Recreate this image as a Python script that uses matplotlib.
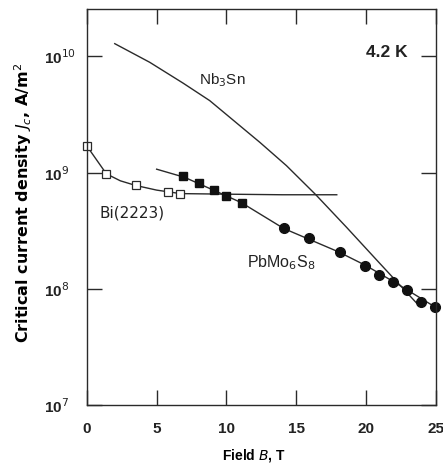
import matplotlib.pyplot as plt

# Nb3Sn curve (field in T, log10 Jc)
nb3sn_b = [2.0, 4.5, 6.9, 8.8, 10.5, 12.4, 14.3, 16.4, 18.6, 20.9, 23.6]
nb3sn_logj = [10.11, 9.95, 9.77, 9.62, 9.45, 9.26, 9.06, 8.81, 8.53, 8.23, 7.88]

# Bi(2223) tape: data points and fitted curve
bi_b = [0.0, 1.4, 3.5, 5.8, 6.7]
bi_logj = [9.23, 8.99, 8.89, 8.83, 8.82]
bi_line_b = [0.0, 0.7, 1.4, 2.4, 3.5, 5.0, 6.7, 10.0, 14.0, 17.9]
bi_line_logj = [9.23, 9.11, 8.99, 8.93, 8.89, 8.85, 8.82, 8.815, 8.81, 8.81]

# PbMo6S8: two sample sets and fitted curve
pb_sq_b = [6.9, 8.0, 9.1, 10.0, 11.1]
pb_sq_logj = [8.97, 8.91, 8.85, 8.80, 8.74]
pb_ci_b = [14.1, 15.9, 18.1, 19.9, 20.9, 21.9, 22.9, 23.9, 24.9]
pb_ci_logj = [8.52, 8.44, 8.32, 8.20, 8.12, 8.06, 7.99, 7.89, 7.84]
pb_line_b = [5.0, 7.0, 10.0, 11.1, 14.1, 18.0, 20.0, 22.0, 25.0]
pb_line_logj = [9.03, 8.96, 8.80, 8.74, 8.52, 8.32, 8.20, 8.06, 7.84]

x_ticks = [0, 5, 10, 15, 20, 25]
y_ticks = [1e7, 1e8, 1e9, 1e10]
y_labels = ["10$^{7}$", "10$^{8}$", "10$^{9}$", "10$^{10}$"]

col = "#2a2a2a"
plt.rcParams["font.family"] = ["Liberation Sans", "DejaVu Sans"]

fig = plt.figure(figsize=(4.43, 4.63), dpi=100)
ax = fig.add_axes([0.196, 0.125, 0.788, 0.856])

def tolin(vals):
    return [10 ** v for v in vals]

ax.plot(nb3sn_b, tolin(nb3sn_logj), color=col, lw=1.0)
ax.plot(bi_line_b, tolin(bi_line_logj), color=col, lw=1.0)
ax.plot(bi_b, tolin(bi_logj), ls="none", marker="s", ms=6.3, mfc="white",
        mec=col, mew=0.9, clip_on=False)
ax.plot(pb_line_b, tolin(pb_line_logj), color=col, lw=1.0)
ax.plot(pb_sq_b, tolin(pb_sq_logj), ls="none", marker="s", ms=6.3, color="#111")
ax.plot(pb_ci_b, tolin(pb_ci_logj), ls="none", marker="o", ms=7, color="#111",
        clip_on=False)

ax.set_yscale("log")
ax.set_xlim(0, 25)
ax.set_ylim(1e7, 10 ** 10.41)
ax.set_xticks(x_ticks)
ax.set_yticks(y_ticks)
ax.set_yticklabels(y_labels)
ax.minorticks_off()
ax.tick_params(direction="in", length=11, width=1.0, color=col,
               top=True, right=True, labelsize=11)
ax.tick_params(axis="x", pad=12)
ax.tick_params(axis="y", pad=31)
for lab in ax.get_xticklabels() + ax.get_yticklabels():
    lab.set_fontweight("bold")
    lab.set_color("#222")
for lab in ax.get_yticklabels():
    lab.set_horizontalalignment("left")
for s in ax.spines.values():
    s.set_color(col)
    s.set_linewidth(1.0)

ax.set_xlabel("Field $\\mathbf{\\it{B}}$, T", fontsize=10, fontweight="bold")
ax.xaxis.set_label_coords(0.478, -0.106)
ax.set_ylabel("Critical current density $\\mathbf{\\it{J}_c}$, A/m$^2$",
              fontsize=11.5, fontweight="bold", family="DejaVu Sans")
ax.yaxis.set_label_coords(-0.152, 0.51)

ax.text(23.0, 10 ** 10.03, "4.2 K", fontsize=12.5, fontweight="bold",
        ha="right", va="center", color="#222")
ax.text(8.0, 10 ** 9.80, "Nb$_3$Sn", fontsize=11, ha="left", va="center",
        color="#222")
ax.text(0.9, 10 ** 8.65, "Bi(2223)", fontsize=11, ha="left", va="center",
        color="#222", family="DejaVu Sans")
ax.text(11.5, 10 ** 8.23, "PbMo$_6$S$_8$", fontsize=11.5, ha="left", va="center",
        color="#222")

fig.savefig("out.png", dpi=100)
